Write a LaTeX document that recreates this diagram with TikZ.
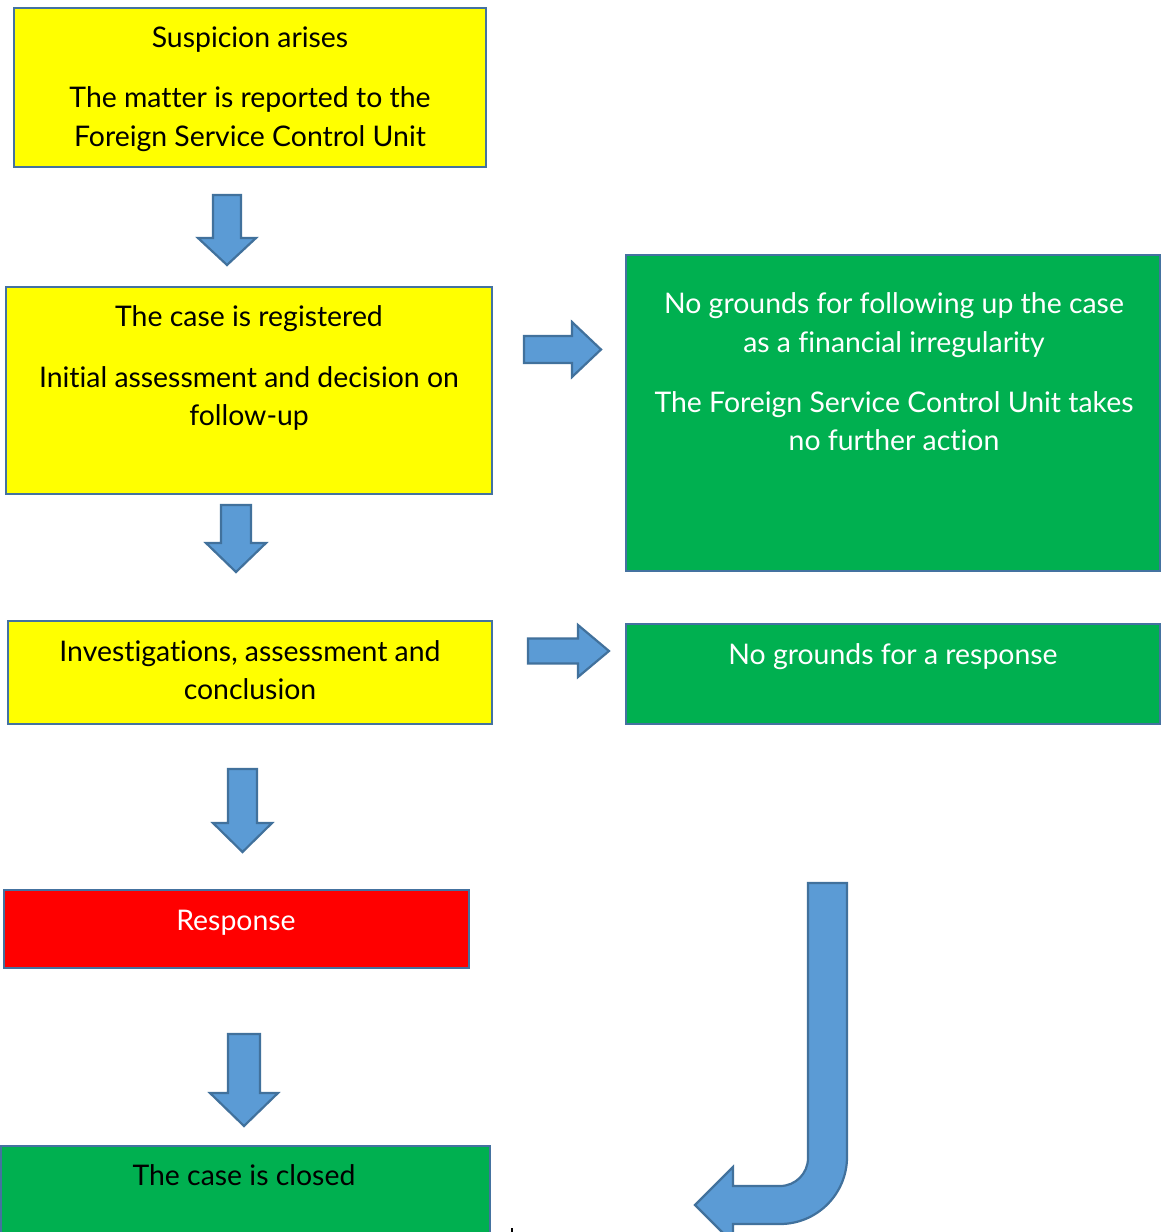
\documentclass[tikz,border=0pt]{standalone}
\usepackage{fontspec}
\setmainfont[Ligatures={NoCommon}]{Lato}
\begin{document}
\begin{tikzpicture}[x=1pt,y=-1pt,
  box/.style={draw=boxline,line width=2pt,inner sep=0pt,rectangle},
  txt/.style={anchor=base,inner sep=0pt,font=\fontsize{28.4}{32}\selectfont},
  wtxt/.style={txt,text=white},
  blockarrow/.style={fill=arrowfill,draw=arrowline,line width=2.2pt,line join=miter}]
\definecolor{boxline}{RGB}{68,114,160}
\definecolor{arrowfill}{RGB}{91,155,213}
\definecolor{arrowline}{RGB}{65,113,156}
\definecolor{yel}{RGB}{255,255,0}
\definecolor{grn}{RGB}{0,176,80}
\definecolor{rd}{RGB}{255,0,0}
\useasboundingbox (0,0) rectangle (1161,1232);
\fill[white] (0,0) rectangle (1161,1232);
% boxes
\node[box,fill=yel,minimum width=472pt,minimum height=159pt] (b1) at (250,87.5) {};
\node[box,fill=yel,minimum width=486pt,minimum height=207pt] (b2) at (249,390.5) {};
\node[box,fill=grn,minimum width=534pt,minimum height=316pt] (b3) at (893,413) {};
\node[box,fill=yel,minimum width=484pt,minimum height=103pt] (b4) at (250,672.5) {};
\node[box,fill=grn,minimum width=534pt,minimum height=100pt] (b5) at (893,674) {};
\node[box,fill=rd,minimum width=465pt,minimum height=78pt] (b6) at (236.5,929) {};
\node[box,fill=grn,minimum width=489pt,minimum height=110pt] (b7) at (245.5,1201) {};
% texts
\node[txt] (t11) at (250,47) {Suspicion arises};
\node[txt] (t12) at (250,107) {The matter is reported to the};
\node[txt] (t13) at (250,146) {Foreign Service Control Unit};
\node[txt] (t21) at (249,326) {The case is registered};
\node[txt] (t22) at (249,387) {Initial assessment and decision on};
\node[txt] (t23) at (249,425) {follow-up};
\node[wtxt] (t31) at (894,313) {No grounds for following up the case};
\node[wtxt] (t32) at (894,352) {as a financial irregularity};
\node[wtxt] (t33) at (894,412) {The Foreign Service Control Unit takes};
\node[wtxt] (t34) at (894,450) {no further action};
\node[txt] (t41) at (250,661) {Investigations, assessment and};
\node[txt] (t42) at (250,699) {conclusion};
\node[wtxt] (t51) at (893,664) {No grounds for a response};
\node[wtxt] (t61) at (236,930) {Response};
\node[txt] (t71) at (244,1185) {The case is closed};
% down arrows
\newcommand{\dnarrow}[6]{%
  \draw[blockarrow] (#1-#3,#2) -- (#1+#3,#2) -- (#1+#3,#4) -- (#1+#5,#4) -- (#1,#6) -- (#1-#5,#4) -- (#1-#3,#4) -- cycle;}
\newcommand{\rtarrow}[6]{%
  \draw[blockarrow] (#2,#1-#3) -- (#2,#1+#3) -- (#4,#1+#3) -- (#4,#1+#5) -- (#6,#1) -- (#4,#1-#5) -- (#4,#1-#3) -- cycle;}
\dnarrow{227}{195}{14}{238}{29}{265}
\dnarrow{236}{505}{15}{543}{30}{572}
\dnarrow{242.5}{769}{14.5}{823}{29.5}{852}
\dnarrow{244}{1034}{16}{1093}{34}{1126}
\rtarrow{349.5}{524}{13.5}{572}{27.5}{601}
\rtarrow{651}{528}{12.5}{578}{26}{609}
% J arrow
\draw[blockarrow] (808,883) -- (847,883) -- (847,1157)
  .. controls (847,1194) and (817,1224) .. (780,1224)
  -- (733,1224) -- (733,1243) -- (695,1205) -- (733,1167) -- (733,1186) -- (780,1186)
  .. controls (795.5,1186) and (808,1173.5) .. (808,1158) -- cycle;
\fill[black] (511,1228) rectangle (513,1232);
\end{tikzpicture}
\end{document}
